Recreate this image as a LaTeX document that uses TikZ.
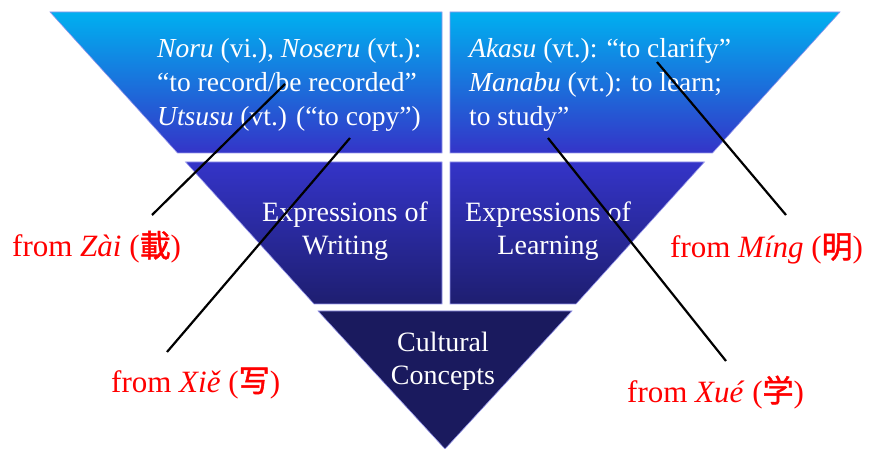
\documentclass[tikz,border=0pt]{standalone}
\usepackage{fontspec}
\setmainfont{Liberation Serif}
\newfontfamily\cjk[FakeBold=1.5]{Noto Sans CJK SC}
\definecolor{skyblue}{RGB}{0,176,240}
\definecolor{bandblue}{RGB}{52,52,200}
\definecolor{deepblue}{RGB}{30,30,112}
\definecolor{tipnavy}{RGB}{26,26,94}
\definecolor{edgeblue}{RGB}{150,150,235}

\begin{document}
\begin{tikzpicture}[x=1pt, y=-1pt,
  upper/.style={top color=skyblue, bottom color=bandblue, draw=edgeblue, line width=0.6pt},
  lower/.style={top color=bandblue, bottom color=deepblue, draw=edgeblue, line width=0.6pt},
  tip/.style={fill=tipnavy, draw=edgeblue, line width=0.6pt},
  word/.style={text=white, font=\fontsize{27.5}{34}\selectfont, inner sep=0pt, align=left, anchor=north west},
  label/.style={text=white, font=\fontsize{28}{32.5}\selectfont, inner sep=0pt, align=center, anchor=north},
  origin/.style={text=red, font=\fontsize{31}{36}\selectfont, inner sep=0pt, anchor=base west},
  pointer/.style={black, line width=2.2pt}]
  \useasboundingbox (0,0) rectangle (871,449);
  % the split triangle
  \shade[upper] (50,12) -- (442,12) -- (442,153) -- (177.5,153) -- cycle;
  \shade[upper] (450,12) -- (840,12) -- (712.5,153) -- (450,153) -- cycle;
  \shade[lower] (185.6,162) -- (442,162) -- (442,304) -- (314,304) -- cycle;
  \shade[lower] (450,162) -- (704.4,162) -- (576,304) -- (450,304) -- cycle;
  \filldraw[tip] (318,311) -- (572,311) -- (445,449) -- cycle;
  % texts
  \node[word] (noru) at (157,38) {\textit{Noru} (vi.), \textit{Noseru} (vt.):\\“to record/be recorded”\\\textit{Utsusu} (vt.) (“to copy”)};
  \node[word] (akasu) at (469,38) {\textit{Akasu} (vt.): “to clarify”\\\textit{Manabu} (vt.): to learn;\\to study”};
  \node[label] (writing) at (345,202) {Expressions of\\Writing};
  \node[label] (learning) at (548,202) {Expressions of\\Learning};
  \node[label] (culture) at (443,332) {Cultural\\Concepts};
  % origins
  \node[origin] (zai) at (12,257) {from \textit{Zài} ({\cjk 載})};
  \node[origin] (ming) at (670,258) {from \textit{Míng} ({\cjk 明})};
  \node[origin] (xie) at (111,392) {from \textit{Xiě} ({\cjk 写})};
  \node[origin] (xue) at (627,402) {from \textit{Xué} ({\cjk 学})};
  \coordinate (zai-foot) at (152,215);
  \coordinate (zai-head) at (285,84);
  \coordinate (xie-foot) at (167,352);
  \coordinate (xie-head) at (350,138);
  \coordinate (ming-foot) at (786,215);
  \coordinate (ming-head) at (657,62);
  \coordinate (xue-foot) at (726,361);
  \coordinate (xue-head) at (548,138);
  \draw[pointer] (zai-foot) -- (zai-head);
  \draw[pointer] (xie-foot) -- (xie-head);
  \draw[pointer] (ming-foot) -- (ming-head);
  \draw[pointer] (xue-foot) -- (xue-head);
\end{tikzpicture}
\end{document}
